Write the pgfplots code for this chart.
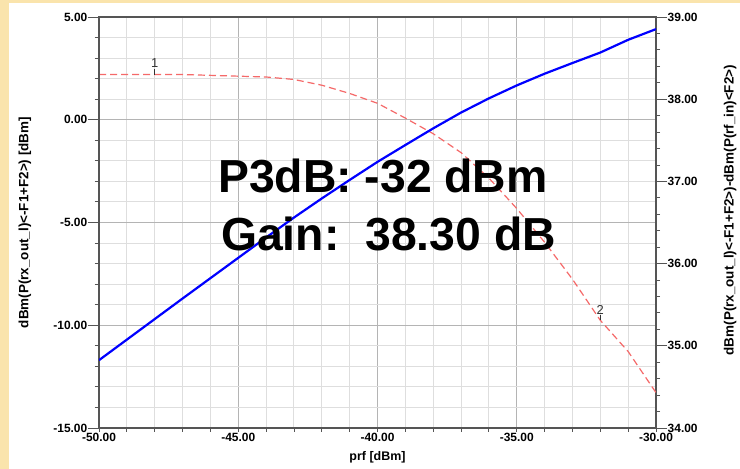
\documentclass[border=0pt]{standalone}
\usepackage{fontspec}
\setmainfont{Liberation Sans}
\usepackage{pgfplots}
\usepackage{pgfplotstable}
\pgfplotsset{compat=1.18}

\definecolor{panelbg}{RGB}{250,228,172}
\definecolor{gridminor}{RGB}{222,222,222}
\definecolor{gridmajor}{RGB}{180,180,180}
\definecolor{axisgray}{RGB}{85,85,85}
\definecolor{gaincurve}{RGB}{245,105,105}

\tikzset{marker label/.style={anchor=south, inner sep=0.5bp, font=\fontsize{13}{14}\selectfont}}

% output power of the intermod product vs. input power
\pgfplotstableread{
pin pout
-50 -11.70
-49 -10.70
-48 -9.70
-47 -8.70
-46 -7.71
-45 -6.72
-44 -5.73
-43 -4.76
-42 -3.83
-41 -2.93
-40 -2.05
-39 -1.23
-38 -0.42
-37 0.35
-36 1.04
-35 1.67
-34 2.24
-33 2.76
-32 3.27
-31 3.89
-30 4.41
}\poutdata

% gain (output minus input) vs. input power
\pgfplotstableread{
pin gain
-50 38.30
-49 38.30
-48 38.30
-47 38.30
-46 38.29
-45 38.28
-44 38.27
-43 38.24
-42 38.17
-41 38.07
-40 37.95
-39 37.77
-38 37.58
-37 37.35
-36 37.04
-35 36.67
-34 36.26
-33 35.81
-32 35.31
-31 34.93
-30 34.43
}\gaindata

\pgfplotsset{
  common/.style={
    scale only axis, width=557bp, height=411bp,
    at={(0,0)}, anchor=south west,
    xmin=-50, xmax=-30,
    axis line style={axisgray, line width=1.4bp},
    tick style={axisgray, line width=0.9bp},
    tick align=outside,
    tick label style={font=\bfseries\fontsize{12}{13}\selectfont},
    label style={font=\bfseries\fontsize{12.5}{14}\selectfont},
  },
}

\begin{document}
\begin{tikzpicture}[x=1bp,y=1bp]
\fill[panelbg] (-99,-41) rectangle (641,428);
\fill[white] (-90,-41) rectangle (641,425);

% grid, frame and input-power axis
\begin{axis}[common, ymin=-15, ymax=5,
  xtick={-50,-45,...,-30}, minor x tick num=4,
  xticklabels={-50.00,-45.00,-40.00,-35.00,-30.00},
  ytick={-15,-10,...,5}, minor y tick num=4,
  yticklabels={},
  xtick pos=bottom, ytick pos=left,
  major tick length=4bp, minor tick length=4bp,
  xticklabel style={inner sep=1bp},
  grid=both,
  minor grid style={gridminor, line width=1bp},
  major grid style={gridmajor, line width=1bp},
  xlabel={prf [dBm]},
  xlabel style={at={(axis description cs:0.5,-0.0706)}, anchor=center},
]
\end{axis}

% gain axis on the right
\begin{axis}[common, ymin=34, ymax=39,
  axis x line=none, axis y line*=right,
  ytick={34,35,...,39}, minor y tick num=4,
  yticklabels={34.00,35.00,36.00,37.00,38.00,39.00},
  major tick length=11bp, minor tick length=4bp,
  yticklabel style={inner sep=0.5bp},
  ylabel={dBm(P(rx\_out\_l)<-F1+F2>)-dBm(P(rf\_in)<F2>)},
  ylabel style={at={(axis description cs:1.1329,0.53)}, anchor=center,
    font=\bfseries\fontsize{13.5}{15}\selectfont},
]
\addplot[gaincurve, line width=1.2bp, dash pattern=on 7bp off 4bp] table[x=pin, y=gain] {\gaindata};
\draw[black!80, line width=0.8bp] (axis cs:-48,38.30) -- ([yshift=6bp]axis cs:-48,38.30)
  node[marker label] {1};
\draw[black!80, line width=0.8bp] (axis cs:-32,35.31) -- ([yshift=5bp]axis cs:-32,35.31)
  node[marker label] {2};
\end{axis}

% output power axis on the left
\begin{axis}[common, ymin=-15, ymax=5,
  axis x line=none, axis y line*=left,
  ytick={-15,-10,...,5}, minor y tick num=4,
  yticklabels={-15.00,-10.00,-5.00,0.00,5.00},
  major tick length=11bp, minor tick length=4bp,
  yticklabel style={inner sep=0.5bp},
  ylabel={dBm(P(rx\_out\_l)<-F1+F2>) [dBm]},
  ylabel style={at={(axis description cs:-0.1329,0.5)}, anchor=center,
    font=\bfseries\fontsize{13.5}{15}\selectfont},
]
\addplot[blue, line width=2.2bp] table[x=pin, y=pout] {\poutdata};
\node[anchor=base west, inner sep=0, font=\bfseries\fontsize{46.5}{50}\selectfont]
  at (rel axis cs:0.2136,0.574) {P3dB: -32 dBm};
\node[anchor=base west, inner sep=0, font=\bfseries\fontsize{46.5}{50}\selectfont]
  at (rel axis cs:0.219,0.433) {Gain:\ \ 38.30 dB};
\end{axis}

\pgfresetboundingbox
\useasboundingbox (-99,-41) rectangle (641,428);
\end{tikzpicture}
\end{document}
